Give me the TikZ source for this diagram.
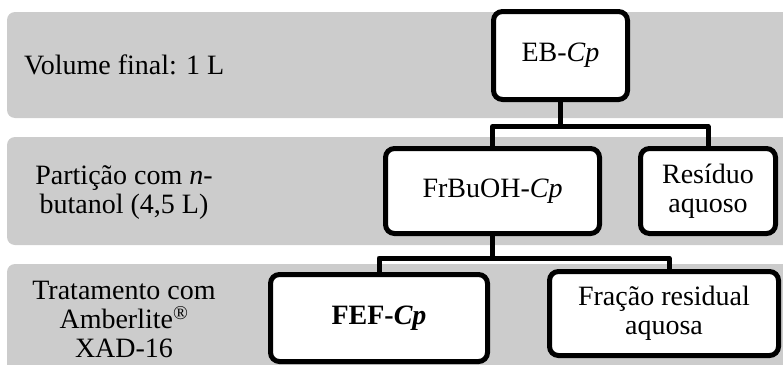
\documentclass[tikz,border=0pt]{standalone}
\usepackage{fontspec}
\setmainfont{Liberation Serif}
\definecolor{bandgray}{RGB}{204,204,204}
\begin{document}
\begin{tikzpicture}[x=1pt,y=-1pt,
  band/.style={fill=bandgray, rounded corners=8pt},
  box/.style={draw=black, line width=5pt, fill=white, rounded corners=9pt, align=center, inner sep=0pt},
  conn/.style={line width=5pt, draw=black, line join=round},
  lbl/.style={align=center, inner sep=0pt},
  every node/.style={font=\fontsize{28}{29}\selectfont}]
\useasboundingbox (0,0) rectangle (783,364);
% bands
\fill[band] (7,12) rectangle (800,118);
\fill[band] (7,137) rectangle (800,245);
\fill[band] (7,264) rectangle (800,380);
% left labels
\node[lbl, anchor=base west] (l1) at (24,74) {Volume final: 1 L};
\node[lbl] (l2) at (124,193) {Partição com \textit{n}-\\butanol (4,5 L)};
\node[lbl] (l3) at (124,319) {Tratamento com\\Amberlite\textsuperscript{®}\\XAD-16};
% boxes
\node[box, minimum width=134pt, minimum height=88pt] (eb) at (560.5,55.5) {EB-\textit{Cp}};
\node[box, minimum width=214pt, minimum height=85pt] (fb) at (492.5,191) {FrBuOH-\textit{Cp}};
\node[box, minimum width=135pt, minimum height=85pt] (rs) at (708,191) {Resíduo\\aquoso};
\node[box, minimum width=217pt, minimum height=87pt] (fef) at (379,318) {\textbf{FEF-\textit{Cp}}};
\node[box, minimum width=229pt, minimum height=84pt] (fr) at (664,313.5) {Fração residual\\aquosa};
% connectors
\draw[conn] (eb.south) -- ++(0,24.5) coordinate (j1);
\draw[conn] (fb.north) |- (j1) -| (rs.north);
\coordinate (frin) at ([xshift=5pt]fr.north);
\draw[conn] (fb.south) -- ++(0,22) coordinate (j2);
\draw[conn] (fef.north) |- (j2) -| (frin);
\end{tikzpicture}
\end{document}
